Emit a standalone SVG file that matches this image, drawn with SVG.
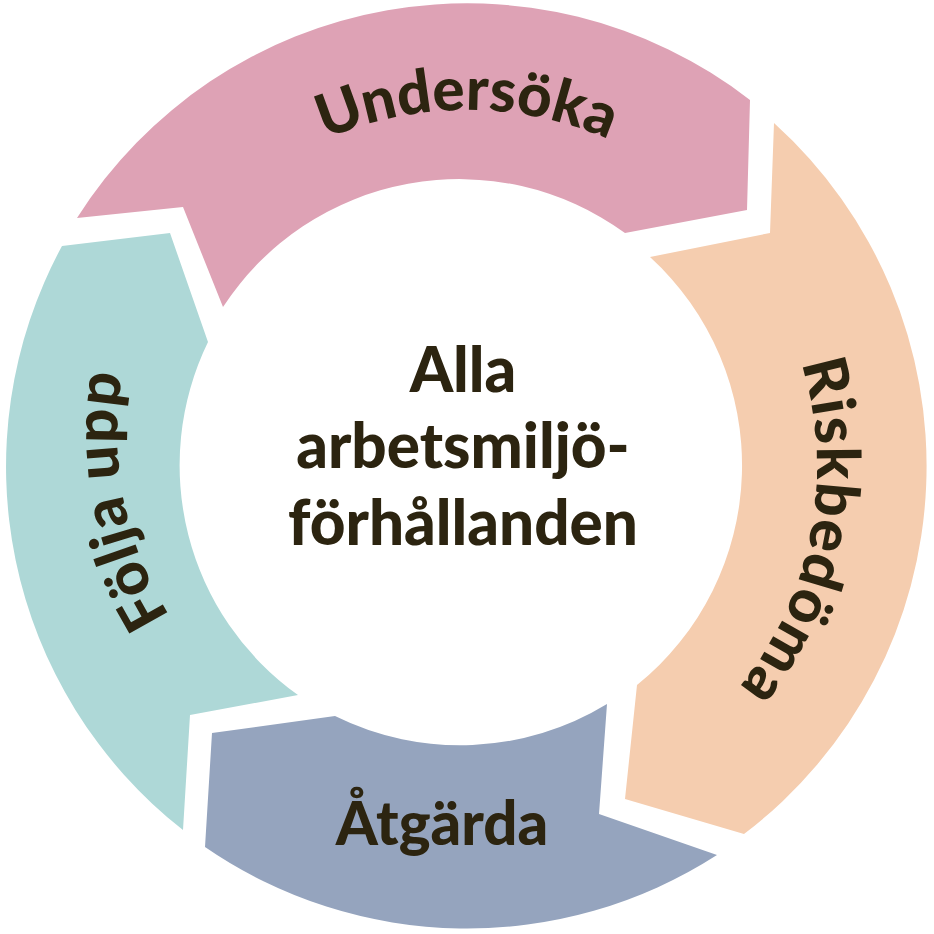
<svg xmlns="http://www.w3.org/2000/svg" xmlns:xlink="http://www.w3.org/1999/xlink" width="934" height="934" viewBox="0 0 934 934">
<style>
.lbl{font-family:Lato,"Liberation Sans",sans-serif;font-weight:900;fill:#2C2410;}
.seg{stroke:none;}
</style>
<defs>
<path id="arcU" d="M 157.8 288.5 A 357 357 0 0 1 776.2 288.5"/>
<path id="arcR" d="M 696.6 202.9 A 350 350 0 0 1 581 797.9"/>
<path id="arcF" d="M 321.2 779.7 A 345 345 0 0 1 269.1 184.4"/>
</defs>
<rect width="934" height="934" fill="#FFFFFF"/>
<g id="undersoka">
<path class="seg" fill="#DEA2B5" d="M 77 218 A 462 462 0 0 1 750 100 L 747 210 L 625 233 A 282 282 0 0 0 223 307 L 183 207 Z"/>
<text class="lbl" font-size="60"><textPath xlink:href="#arcU" href="#arcU" startOffset="50%" text-anchor="middle">Undersöka</textPath></text>
</g>
<g id="riskbedoma">
<path class="seg" fill="#F5CDAF" d="M 774 123 A 462 462 0 0 1 744 834 L 625 799 L 637 685 A 282 282 0 0 0 650 257 L 770 233 Z"/>
<text class="lbl" font-size="60" letter-spacing="1.5"><textPath xlink:href="#arcR" href="#arcR" startOffset="50%" text-anchor="middle">Riskbedöma</textPath></text>
</g>
<g id="atgarda">
<path class="seg" fill="#95A4BE" d="M 717 855 A 462 462 0 0 1 205 847 L 212 733 L 335 716 A 282 282 0 0 0 607 704 L 599 814 Z"/>
<text class="lbl" font-size="60" x="442" y="845" text-anchor="middle">Åtgärda</text>
</g>
<g id="folja-upp">
<path class="seg" fill="#AED8D7" d="M 183 830 A 462 462 0 0 1 62 246 L 170 233 L 208 342 A 282 282 0 0 0 298 695 L 190 715 Z"/>
<text class="lbl" font-size="60" letter-spacing="1" transform="rotate(-6 141 495)"><textPath xlink:href="#arcF" href="#arcF" startOffset="50%" text-anchor="middle">Följa upp</textPath></text>
</g>
<g id="center">
<text class="lbl" font-size="62" text-anchor="middle"><tspan x="463" y="392">Alla</tspan><tspan x="463" y="468">arbetsmiljö-</tspan><tspan x="463" y="545">förhållanden</tspan></text>
</g>
</svg>
